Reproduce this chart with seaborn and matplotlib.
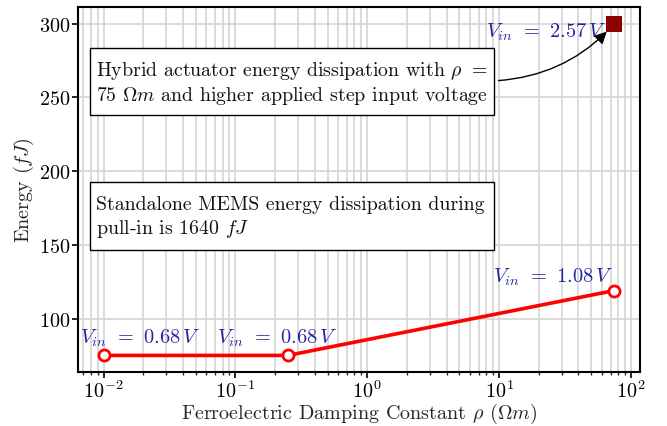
import numpy as np
import pandas as pd
import matplotlib
matplotlib.use("Agg")
import matplotlib.pyplot as plt
import seaborn as sns

# Data
rho_values = [0.01, 0.25, 75]
energy_values = [75, 75, 119]
vin_labels = [r"$V_{in}$ $=$ $0.68\,V$", r"$V_{in}$ $=$ $0.68\,V$", r"$V_{in}$ $=$ $1.08\,V$"]
hybrid_rho = [75]
hybrid_energy = [300]
hybrid_label = r"$V_{in}$ $=$ $2.57\,V$"
box1_text = "Hybrid actuator energy dissipation with $\\rho$ $=$\n75 $\\Omega m$ and higher applied step input voltage"
box2_text = "Standalone MEMS energy dissipation during\npull-in is 1640 $fJ$"
y_ticks = [100, 150, 200, 250, 300]

sns.set_theme(style="white")
plt.rcParams["font.family"] = "serif"
plt.rcParams["font.serif"] = ["cmr10", "DejaVu Serif"]
plt.rcParams["mathtext.fontset"] = "cm"
plt.rcParams["axes.formatter.use_mathtext"] = True
plt.rcParams["axes.unicode_minus"] = False

W, H = 667, 427
fig = plt.figure(figsize=(W / 100, H / 100), dpi=100)
L, R, T, B = 78, 640, 8, 373
ax = fig.add_axes([L / W, (H - B) / H, (R - L) / W, (B - T) / H])

df = pd.DataFrame({"rho": rho_values, "energy": energy_values})
sns.lineplot(data=df, x="rho", y="energy", ax=ax, color="#ff0000", lw=2.6,
             marker="o", markersize=8, markerfacecolor="white",
             markeredgecolor="#ff0000", markeredgewidth=2.0, zorder=5)
dfh = pd.DataFrame({"rho": hybrid_rho, "energy": hybrid_energy})
sns.scatterplot(data=dfh, x="rho", y="energy", ax=ax, marker="s", s=130,
                color="#8b0000", edgecolor="#8b0000", linewidth=0, zorder=6)

ax.set_xscale("log")
lo, hi = np.log10(min(rho_values)), np.log10(max(rho_values))
ax.set_xlim(10 ** (lo - 0.05 * (hi - lo)), 10 ** (hi + 0.05 * (hi - lo)))
ymin, ymax = 75, 300
ax.set_ylim(ymin - 0.05 * (ymax - ymin), ymax + 0.05 * (ymax - ymin))
ax.set_yticks(y_ticks)
ax.set_xticks([1e-2, 1e-1, 1, 10, 100])

ax.grid(True, which="major", color="#d4d4d4", lw=1.2)
ax.grid(True, which="minor", axis="x", color="#d4d4d4", lw=1.2)
ax.set_axisbelow(True)
for s in ax.spines.values():
    s.set_color("black")
    s.set_linewidth(1.5)
ax.tick_params(axis="both", which="major", direction="out", length=4, width=1.2,
               labelsize=14.5, colors="black", bottom=True, left=True, pad=1.5)
ax.tick_params(axis="x", which="minor", direction="out", length=2.5, width=1.0,
               bottom=True)

ax.set_xlabel(r"Ferroelectric Damping Constant $\rho$ $(\Omega m)$", fontsize=14.5, labelpad=0)
ax.set_ylabel(r"Energy $(fJ)$", fontsize=14.5, labelpad=2)

blue = "#2323a0"
offsets = [(37, 18), (-11, 18), (-61, 14)]
for x, y, lab, off in zip(rho_values, energy_values, vin_labels, offsets):
    ax.annotate(lab, xy=(x, y), xytext=off, textcoords="offset pixels",
                ha="center", va="center", color=blue, fontsize=14.7)
ax.annotate(hybrid_label, xy=(hybrid_rho[0], hybrid_energy[0]), xytext=(-68, -8),
            textcoords="offset pixels", ha="center", va="center", color=blue, fontsize=14.7)

# arrow
ax.annotate("", xy=(hybrid_rho[0], hybrid_energy[0]), xytext=(-116, -57),
            textcoords="offset pixels",
            arrowprops=dict(arrowstyle="-|>,head_length=0.6,head_width=0.3", color="black",
                            lw=1.0, shrinkA=0, shrinkB=8,
                            connectionstyle="arc3,rad=0.2"), zorder=7)

# text boxes
from matplotlib.patches import Rectangle
def axfx(px):
    return (px - L) / (R - L)
def axfy(py):
    return (B - py) / (B - T)
for (x0, y0, x1, y1), txt in [((90, 49, 494, 116), box1_text), ((90, 183, 494, 251), box2_text)]:
    ax.add_patch(Rectangle((axfx(x0), axfy(y1)), axfx(x1) - axfx(x0), axfy(y0) - axfy(y1),
                           transform=ax.transAxes, facecolor="white", edgecolor="black",
                           lw=1.0, zorder=8))
    ax.text(axfx(96), axfy((y0 + y1) / 2 + 1), txt, transform=ax.transAxes, ha="left",
            va="center", fontsize=14.3, linespacing=1.2, zorder=9, color="#111111")

fig.savefig("out.png", dpi=100)
